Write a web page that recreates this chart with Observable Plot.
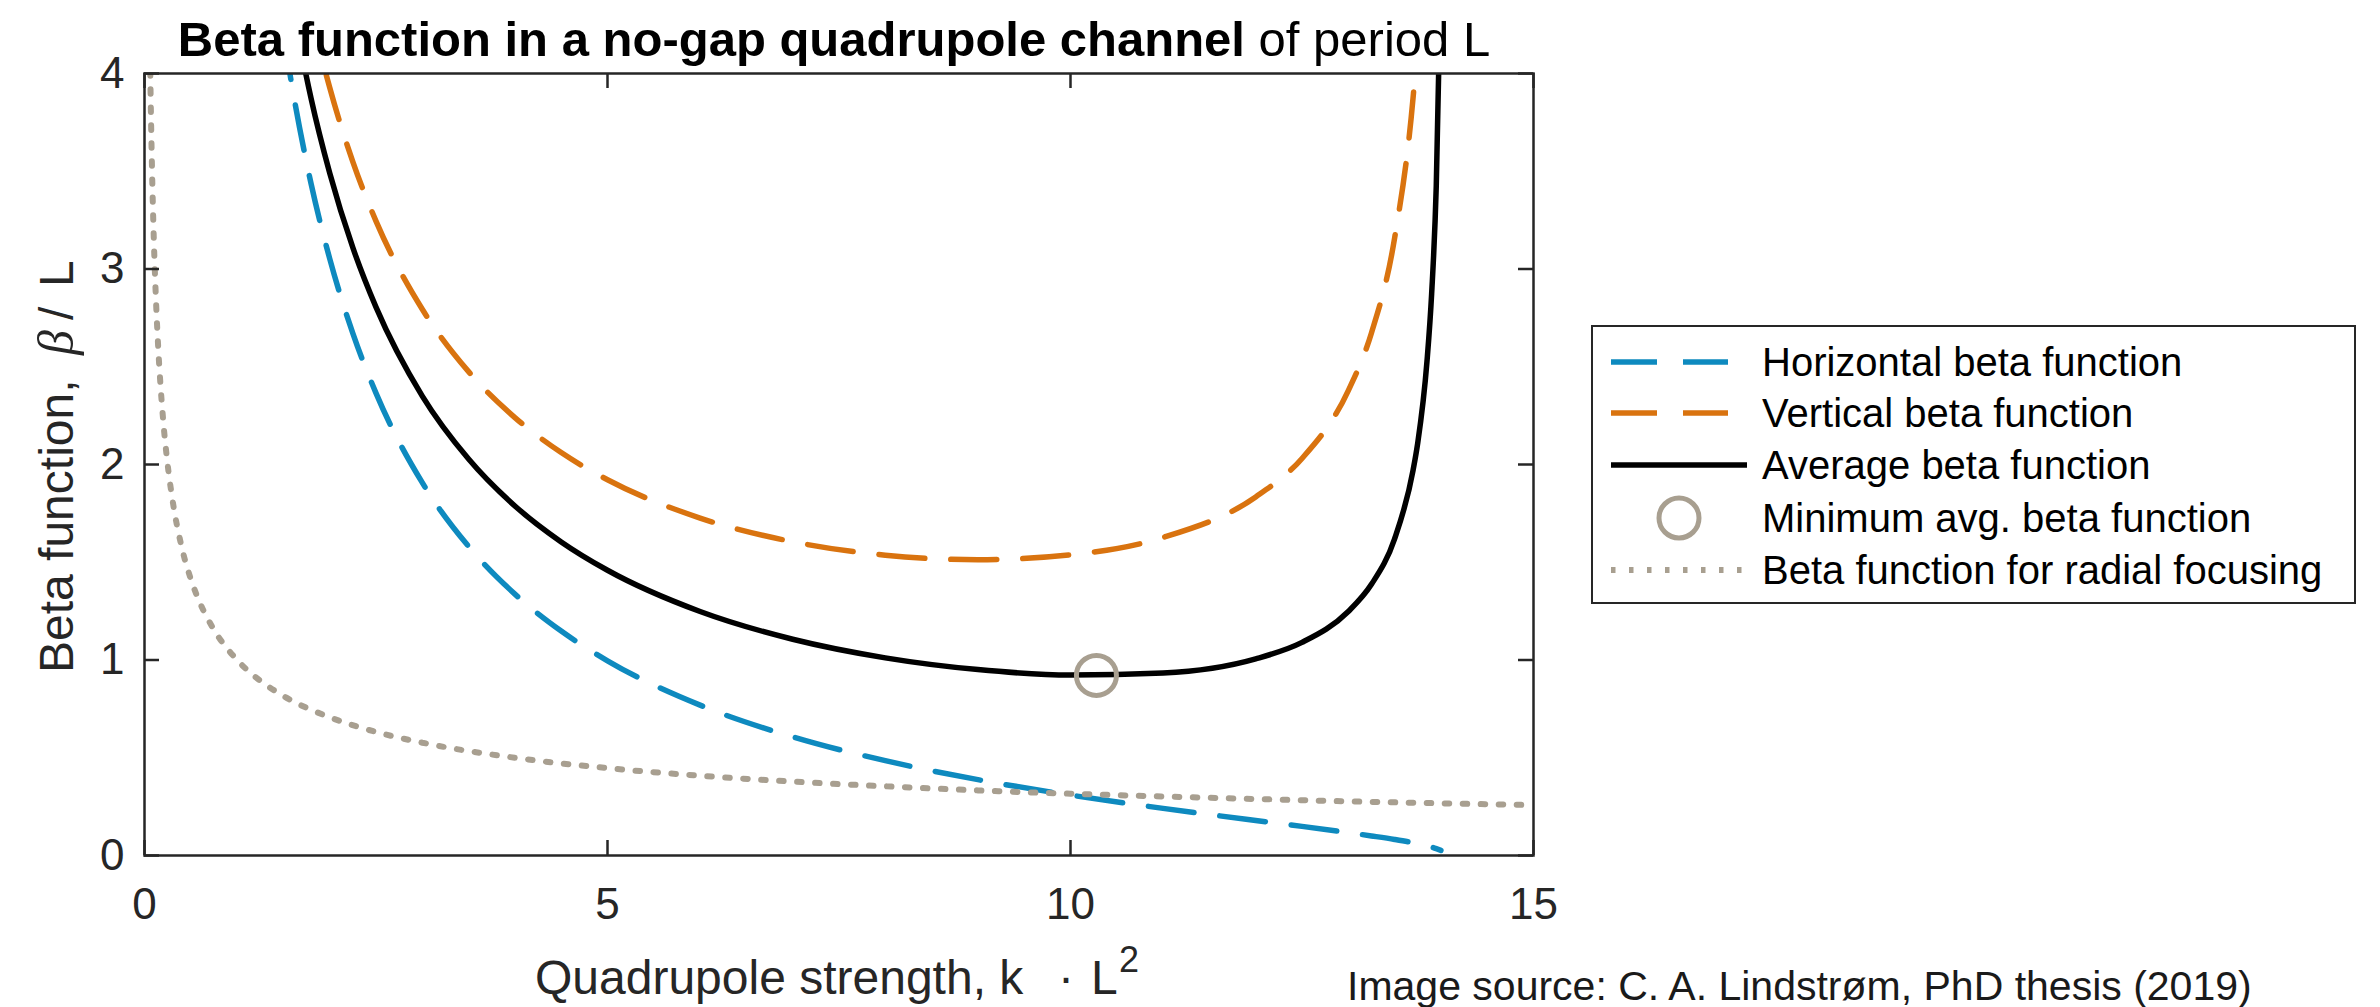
<!DOCTYPE html>
<html><head><meta charset="utf-8">
<script src="https://cdn.jsdelivr.net/npm/d3@7"></script>
<script src="https://cdn.jsdelivr.net/npm/@observablehq/plot@0.6"></script>
<style>html,body{margin:0;padding:0;background:#fff;} #chart{width:2380px;height:1007px;overflow:hidden;}</style>
</head><body><div id="chart"></div>
<script>
// ---- data ----
const strengthK = [1.5,1.6,1.8,2,2.25,2.5,3,3.5,4,4.5,5,6,7,8,9,10,11,12,12.5,13,13.25,13.5,13.7,13.75,13.85,13.9,13.95,14.0];
const betaHorizontal = [4.203,3.916,3.434,3.053,2.671,2.365,1.907,1.581,1.337,1.148,0.996,0.769,0.607,0.485,0.388,0.309,0.241,0.179,0.149,0.117,0.100,0.082,0.065,0.060,0.049,0.043,0.035,0.026];
const betaVertical = [5.074,4.787,4.307,3.928,3.548,3.245,2.794,2.475,2.240,2.061,1.922,1.726,1.605,1.536,1.513,1.538,1.627,1.834,2.031,2.378,2.673,3.158,3.879,4.163,5.009,5.703,6.814,9.070];
const betaAverage = [4.638,4.351,3.870,3.491,3.109,2.805,2.350,2.028,1.788,1.604,1.459,1.248,1.106,1.011,0.951,0.923,0.934,1.006,1.090,1.248,1.387,1.620,1.972,2.111,2.529,2.873,3.425,4.548];
const radialK = [0.05,0.0625,0.08,0.1,0.125,0.15,0.2,0.25,0.3,0.4,0.5,0.6,0.75,1,1.25,1.5,2,2.5,3,4,5,6,7,8,9,10,11,12,13,14,15];
const betaRadial = [4.472,4,3.536,3.162,2.828,2.582,2.236,2,1.826,1.581,1.414,1.291,1.155,1,0.894,0.816,0.707,0.632,0.577,0.5,0.447,0.408,0.378,0.354,0.333,0.316,0.302,0.289,0.277,0.267,0.258];
const minK = [10.28];
const minBeta = [0.921];
const xTicks = [0,5,10,15];
const yTicks = [0,1,2,3,4];
const legendLabels = ["Horizontal beta function","Vertical beta function","Average beta function","Minimum avg. beta function","Beta function for radial focusing"];

// ---- styling ----
const W = 2380, H = 1007;
const mL = 144, mR = 847, mT = 73, mB = 152;
const frameW = W - mL - mR, frameH = H - mT - mB;
const FONT = "'Liberation Sans', Arial, Helvetica, sans-serif";
const BLUE = "#0e8abf", ORANGE = "#d9730f", BLACK = "#000000", GRAY = "#a89f90", AXIS = "#262626";
const DASH = "46,26", DOT = "4.5,13.5";

const rows = (xs, ys) => xs.map((k, i) => ({k, b: ys[i]}));
const horiz = rows(strengthK, betaHorizontal);
const vert = rows(strengthK, betaVertical);
const avg = rows(strengthK, betaAverage);
const radial = rows(radialK, betaRadial);
const minimum = rows(minK, minBeta);

const chart = Plot.plot({
  width: W, height: H,
  marginLeft: mL, marginRight: mR, marginTop: mT, marginBottom: mB,
  x: {domain: [0, 15], label: null},
  y: {domain: [0, 4], label: null},
  style: {fontFamily: FONT, background: "#fff", color: AXIS, overflow: "visible"},
  marks: [
    Plot.line(horiz, {x: "k", y: "b", stroke: BLUE, strokeWidth: 5.5, strokeDasharray: DASH, curve: "monotone-x", clip: true}),
    Plot.line(vert, {x: "k", y: "b", stroke: ORANGE, strokeWidth: 5.5, strokeDasharray: DASH, curve: "monotone-x", clip: true}),
    Plot.line(avg, {x: "k", y: "b", stroke: BLACK, strokeWidth: 5.5, curve: "monotone-x", clip: true}),
    Plot.dot(minimum, {x: "k", y: "b", r: 20, stroke: GRAY, strokeWidth: 5, fill: "none"}),
    Plot.line(radial, {x: "k", y: "b", stroke: GRAY, strokeWidth: 6, strokeDasharray: DOT, curve: "monotone-x", clip: true}),
    Plot.frame({stroke: AXIS, strokeWidth: 2.5}),
    Plot.ruleX(xTicks, {x: d => d, insetTop: frameH - 15, stroke: AXIS, strokeWidth: 2.5}),
    Plot.ruleX(xTicks, {x: d => d, insetBottom: frameH - 15, stroke: AXIS, strokeWidth: 2.5}),
    Plot.ruleY(yTicks, {y: d => d, insetRight: frameW - 15, stroke: AXIS, strokeWidth: 2.5}),
    Plot.ruleY(yTicks, {y: d => d, insetLeft: frameW - 15, stroke: AXIS, strokeWidth: 2.5}),
    Plot.axisX({ticks: xTicks, tickSize: 0, tickPadding: 32, fontSize: 44, label: null, tickFormat: d => String(d), fill: AXIS}),
    Plot.axisY({ticks: yTicks, tickSize: 0, tickPadding: 20, fontSize: 44, label: null, tickFormat: d => String(d), fill: AXIS})
  ]
});
document.getElementById("chart").appendChild(chart);

const svg = d3.select(chart);
const addText = (parent, x, y, str, opts = {}) => {
  const t = parent.append("text").attr("x", x).attr("y", y)
    .attr("text-anchor", opts.anchor || "start")
    .attr("font-family", opts.family || FONT)
    .attr("font-size", opts.size || 48)
    .attr("fill", opts.fill || AXIS);
  if (opts.weight) t.attr("font-weight", opts.weight);
  if (opts.style) t.attr("font-style", opts.style);
  if (str !== null) t.text(str);
  return t;
};

// Title
const title = addText(svg, 834, 56, null, {anchor: "middle", size: 49, fill: "#000"});
title.append("tspan").attr("font-weight", "bold").text("Beta function in a no-gap quadrupole channel");
title.append("tspan").attr("font-weight", "normal").text(" of period L");

// X label
const xl = svg.append("g");
addText(xl, 535, 994, "Quadrupole strength, k");
addText(xl, 1066, 994, "·", {anchor: "middle"});
addText(xl, 1091, 994, "L");
addText(xl, 1119, 972, "2", {size: 36});

// Y label
const yl = svg.append("g").attr("transform", "translate(73,673) rotate(-90)");
addText(yl, 0, 0, "Beta function,");
addText(yl, 318, 0, "β", {family: "'Liberation Serif', 'DejaVu Serif', serif", style: "italic", size: 50});
addText(yl, 353, 0, "/");
addText(yl, 386, 0, "L");

// Caption
addText(svg, 1347, 1000, "Image source: C. A. Lindstrøm, PhD thesis (2019)", {size: 41, weight: 300, fill: "#1a1a1a"});

// Legend
const lg = svg.append("g");
lg.append("rect").attr("x", 1592).attr("y", 326).attr("width", 763).attr("height", 277)
  .attr("fill", "#fff").attr("stroke", AXIS).attr("stroke-width", 2);
const rowY = [362, 413, 465, 518, 570];
lg.append("line").attr("x1", 1611).attr("x2", 1728).attr("y1", rowY[0]).attr("y2", rowY[0])
  .attr("stroke", BLUE).attr("stroke-width", 5.5).attr("stroke-dasharray", DASH);
lg.append("line").attr("x1", 1611).attr("x2", 1728).attr("y1", rowY[1]).attr("y2", rowY[1])
  .attr("stroke", ORANGE).attr("stroke-width", 5.5).attr("stroke-dasharray", DASH);
lg.append("line").attr("x1", 1611).attr("x2", 1747).attr("y1", rowY[2]).attr("y2", rowY[2])
  .attr("stroke", BLACK).attr("stroke-width", 5.5);
lg.append("circle").attr("cx", 1679).attr("cy", rowY[3]).attr("r", 20)
  .attr("fill", "none").attr("stroke", GRAY).attr("stroke-width", 5);
lg.append("line").attr("x1", 1611).attr("x2", 1742).attr("y1", rowY[4]).attr("y2", rowY[4])
  .attr("stroke", GRAY).attr("stroke-width", 6).attr("stroke-dasharray", DOT);
legendLabels.forEach((t, i) => addText(lg, 1762, rowY[i] + 14, t, {size: 40, fill: "#000"}));
</script></body></html>
